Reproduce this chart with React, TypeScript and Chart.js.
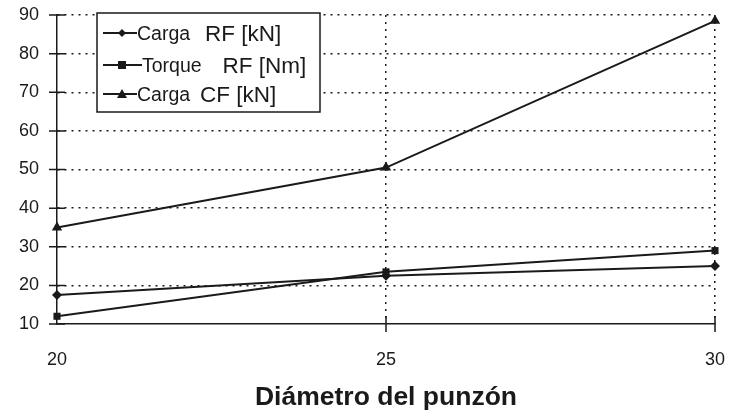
import React, { useEffect, useRef } from "react";
import { Chart, registerables } from "chart.js";

Chart.register(...registerables);

const diameters = [20, 25, 30];
const cargaRF = [17.5, 22.5, 25];
const torqueRF = [12, 23.5, 29];
const cargaCF = [35, 50.5, 88.5];
const legendWords = ["Carga", "Torque", "Carga"];
const legendUnits = ["RF [kN]", "RF [Nm]", "CF [kN]"];
const pointStyles = ["rectRot", "rect", "triangle"];
const xTitle = "Diámetro del punzón";
const yMin = 10;
const yMax = 90;

const FONT = "'Liberation Sans', Arial, sans-serif";
const INK = "#1a1a1a";

const crossTicks = {
  id: "crossTicks",
  afterDatasetsDraw(chart: any) {
    const ctx = chart.ctx;
    const x = chart.scales.x;
    const y = chart.scales.y;
    ctx.save();
    ctx.strokeStyle = INK;
    ctx.lineWidth = 1.5;
    ctx.beginPath();
    y.ticks.forEach((t: any) => {
      const py = y.getPixelForValue(t.value);
      ctx.moveTo(x.left - 8, py);
      ctx.lineTo(x.left + 8, py);
    });
    x.ticks.forEach((t: any) => {
      if (t.value === x.min) return;
      const px = x.getPixelForValue(t.value);
      ctx.moveTo(px, y.bottom - 8);
      ctx.lineTo(px, y.bottom + 8);
    });
    ctx.stroke();
    ctx.restore();
  },
};

const boxLegend = {
  id: "boxLegend",
  afterDraw(chart: any) {
    const ctx = chart.ctx;
    const left = chart.chartArea.left + 40;
    const top = chart.chartArea.top - 2;
    const w = 223;
    const h = 99;
    const rowY = [20, 52, 81];
    const lineEnd = [40, 45, 40];
    const wordX = [40, 45, 40];
    const gaps = [15, 21, 10];
    ctx.save();
    ctx.fillStyle = "#fff";
    ctx.fillRect(left, top, w, h);
    ctx.strokeStyle = INK;
    ctx.lineWidth = 1.5;
    ctx.strokeRect(left, top, w, h);
    chart.data.datasets.forEach((ds: any, i: number) => {
      const cy = top + rowY[i];
      ctx.strokeStyle = INK;
      ctx.lineWidth = 2;
      ctx.beginPath();
      ctx.moveTo(left + 6, cy);
      ctx.lineTo(left + lineEnd[i], cy);
      ctx.stroke();
      ctx.fillStyle = INK;
      const cx = left + 25;
      const r = 4;
      ctx.beginPath();
      if (ds.pointStyle === "rectRot") {
        ctx.moveTo(cx, cy - r);
        ctx.lineTo(cx + r, cy);
        ctx.lineTo(cx, cy + r);
        ctx.lineTo(cx - r, cy);
      } else if (ds.pointStyle === "rect") {
        ctx.rect(cx - r, cy - r, 2 * r, 2 * r);
      } else {
        ctx.moveTo(cx, cy - r - 1);
        ctx.lineTo(cx + r + 1, cy + r);
        ctx.lineTo(cx - r - 1, cy + r);
      }
      ctx.closePath();
      ctx.fill();
      ctx.textBaseline = "alphabetic";
      ctx.textAlign = "left";
      ctx.font = `19.5px ${FONT}`;
      const word = legendWords[i];
      const x0 = left + wordX[i];
      ctx.fillText(word, x0, cy + 7);
      const ww = ctx.measureText(word).width;
      ctx.font = `22.5px ${FONT}`;
      ctx.fillText(legendUnits[i], x0 + ww + gaps[i], cy + 8);
    });
    ctx.restore();
  },
};

export default function App() {
  const ref = useRef<HTMLCanvasElement>(null);
  useEffect(() => {
    if (!ref.current) return;
    const series = [cargaRF, torqueRF, cargaCF];
    const chart = new Chart(ref.current, {
      type: "line",
      data: {
        datasets: series.map((vals, i) => ({
          label: legendWords[i] + " " + legendUnits[i],
          data: diameters.map((d, j) => ({ x: d, y: vals[j] })),
          borderColor: INK,
          backgroundColor: INK,
          borderWidth: 2,
          pointStyle: pointStyles[i] as any,
          pointRadius: i === 2 ? 6 : 5,
          pointBorderWidth: 0,
          tension: 0,
          clip: false as any,
        })),
      },
      options: {
        animation: false,
        responsive: false,
        maintainAspectRatio: false,
        layout: { autoPadding: false, padding: 0 },
        plugins: { legend: { display: false }, tooltip: { enabled: false } },
        scales: {
          x: {
            type: "linear",
            min: 20,
            max: 30,
            ticks: { stepSize: 5, color: INK, font: { family: FONT, size: 18 }, padding: 25 },
            grid: {
              color: (c: any) => (c.tick && c.tick.value === 20 ? "transparent" : INK),
              lineWidth: 1.5,
              drawTicks: false,
            },
            border: { display: true, color: INK, width: 1.5, dash: [2, 5] as any },
            title: {
              display: true,
              text: xTitle,
              color: INK,
              font: { family: FONT, size: 26.5, weight: "bold" as any },
              padding: { top: 4, bottom: 0 },
            },
            afterFit: (s: any) => {
              s.height = 90;
              s.paddingLeft = 0;
              s.paddingRight = 15;
            },
          },
          y: {
            min: yMin,
            max: yMax,
            ticks: { stepSize: 10, color: INK, font: { family: FONT, size: 18 }, padding: 18 },
            grid: {
              color: (c: any) => (c.tick && c.tick.value === yMin ? "transparent" : INK),
              lineWidth: 1.5,
              drawTicks: false,
            },
            border: { display: true, color: INK, width: 1.5, dash: [2, 5] as any },
            afterFit: (s: any) => {
              s.width = 57;
              s.paddingTop = 15;
              s.paddingBottom = 0;
            },
          },
        },
      },
      plugins: [crossTicks, boxLegend],
    });
    return () => chart.destroy();
  }, []);
  return (
    <div style={{ position: "fixed", left: 0, top: 0, width: 730, height: 414, background: "#fff" }}>
      <canvas ref={ref} width={730} height={414} style={{ width: 730, height: 414 }} />
    </div>
  );
}
